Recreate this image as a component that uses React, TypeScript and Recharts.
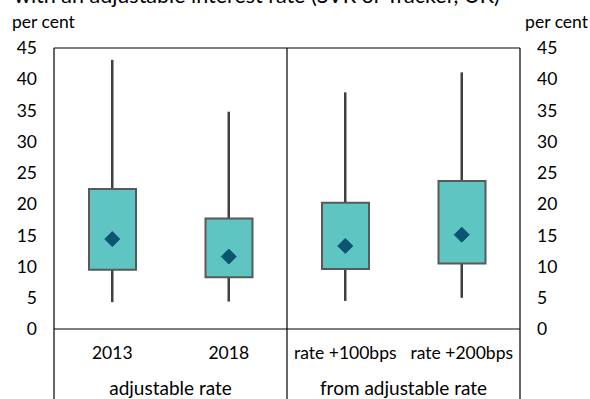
import React from 'react';
import { ComposedChart, Bar, Line, XAxis, YAxis, ReferenceLine } from 'recharts';

const categories = ['2013', '2018', 'rate +100bps', 'rate +200bps'];
const groupLabels = ['adjustable rate', 'from adjustable rate'];
const whiskerLow = [4.3, 4.4, 4.5, 5.0];
const quartile1 = [9.5, 8.3, 9.6, 10.5];
const quartile3 = [22.4, 17.7, 20.2, 23.7];
const whiskerHigh = [43.1, 34.8, 37.9, 41.1];
const meanValues = [14.4, 11.6, 13.3, 15.1];
const yTicks = [0, 5, 10, 15, 20, 25, 30, 35, 40, 45];
const titleText = 'with an adjustable interest rate (SVR or Tracker, UK)';
const unitLabel = 'per cent';

const W = 590;
const H = 399;
const LEFT_W = 54;
const RIGHT_W = 70;
const TOP = 48;
const X_AXIS_H = 70;
const PLOT_BOTTOM = H - X_AXIS_H;
const BAND = (W - LEFT_W - RIGHT_W) / categories.length;
const FONT = 'Lato, "DejaVu Sans", sans-serif';
const FS = 17.5;
const GROUP_FS = 19;

const data = categories.map((c, i) => ({
  name: c,
  whisker: [whiskerLow[i], whiskerHigh[i]],
  box: [quartile1[i], quartile3[i]],
  mean: meanValues[i],
}));

const CategoryTick = (props: any) => {
  const { x, payload } = props;
  const i = payload?.index ?? props.index;
  const half = BAND / 2;
  const items: any[] = [];
  items.push(
    <text key="t" x={x} y={PLOT_BOTTOM + 30} textAnchor="middle" fontFamily={FONT} fontSize={FS} fill="#000">
      {payload.value}
    </text>
  );
  if (i === 0) {
    items.push(<line key="l0" x1={x - half} x2={x - half} y1={PLOT_BOTTOM} y2={H} stroke="#000" strokeWidth={1.2} />);
    items.push(
      <text key="g0" x={x + half} y={H - 4} textAnchor="middle" fontFamily={FONT} fontSize={GROUP_FS} fill="#000">
        {groupLabels[0]}
      </text>
    );
  }
  if (i === 1) {
    items.push(<line key="l1" x1={x + half} x2={x + half} y1={TOP} y2={H} stroke="#000" strokeWidth={1.2} />);
  }
  if (i === 2) {
    items.push(
      <text key="g1" x={x + half} y={H - 4} textAnchor="middle" fontFamily={FONT} fontSize={GROUP_FS} fill="#000">
        {groupLabels[1]}
      </text>
    );
  }
  if (i === 3) {
    items.push(<line key="l3" x1={x + half} x2={x + half} y1={PLOT_BOTTOM} y2={H} stroke="#000" strokeWidth={1.2} />);
  }
  return <g>{items}</g>;
};

const Diamond = (props: any) => {
  const { cx, cy } = props;
  if (cx == null || cy == null) return null;
  const r = 7.5;
  return (
    <polygon
      points={`${cx},${cy - r} ${cx + r},${cy} ${cx},${cy + r} ${cx - r},${cy}`}
      fill="#0B5572"
      stroke="#0B5572"
      strokeWidth={1}
      strokeLinejoin="round"
    />
  );
};

export default function App() {
  return (
    <div style={{ position: 'absolute', left: 0, top: 0, width: W, height: H, background: '#fff' }}>
      <ComposedChart
        width={W}
        height={H}
        data={data}
        margin={{ top: TOP, right: 0, bottom: 0, left: 0 }}
      >
        <XAxis
          xAxisId="box"
          dataKey="name"
          height={X_AXIS_H}
          tickLine={false}
          axisLine={{ stroke: '#000', strokeWidth: 1.2 }}
          tick={<CategoryTick />}
          interval={0}
        />
        <XAxis xAxisId="wh" dataKey="name" hide />
        <YAxis
          yAxisId="left"
          orientation="left"
          width={LEFT_W}
          domain={[0, 45]}
          ticks={yTicks}
          tickLine={false}
          tickMargin={11}
          axisLine={{ stroke: '#000', strokeWidth: 1.2 }}
          tick={{ fontFamily: FONT, fontSize: FS, fill: '#000' }}
          allowDataOverflow
        />
        <YAxis
          yAxisId="right"
          orientation="right"
          width={RIGHT_W}
          domain={[0, 45]}
          ticks={yTicks}
          tickLine={false}
          tickMargin={11}
          axisLine={{ stroke: '#000', strokeWidth: 1.2 }}
          tick={{ fontFamily: FONT, fontSize: FS, fill: '#000', textAnchor: 'start' }}
          allowDataOverflow
        />
        <ReferenceLine yAxisId="left" xAxisId="box" y={45} stroke="#000" strokeWidth={1.2} />
        <Bar
          xAxisId="wh"
          yAxisId="left"
          dataKey="whisker"
          barSize={2.5}
          fill="#404040"
          isAnimationActive={false}
        />
        <Bar
          xAxisId="box"
          yAxisId="left"
          dataKey="box"
          barSize={47}
          fill="#5EC5C2"
          stroke="#595959"
          strokeWidth={2}
          isAnimationActive={false}
        />
        <Line
          xAxisId="box"
          yAxisId="left"
          dataKey="mean"
          stroke="none"
          dot={<Diamond />}
          activeDot={false}
          isAnimationActive={false}
        />
      </ComposedChart>
      <svg
        width={W}
        height={H}
        style={{ position: 'absolute', left: 0, top: 0, pointerEvents: 'none' }}
      >
        <text x={14} y={3} fontFamily={FONT} fontSize={21.5} fill="#000">{titleText}</text>
        <text x={12} y={28} fontFamily={FONT} fontSize={FS} fill="#000">{unitLabel}</text>
        <text x={W - 2} y={28} textAnchor="end" fontFamily={FONT} fontSize={FS} fill="#000">{unitLabel}</text>
      </svg>
    </div>
  );
}
